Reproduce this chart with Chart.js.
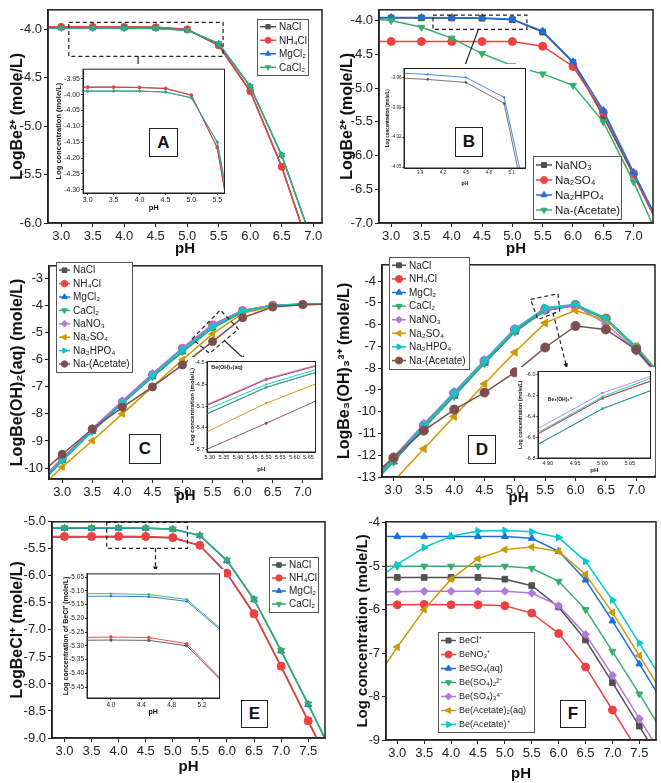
<!DOCTYPE html>
<html>
<head>
<meta charset="utf-8">
<script src="https://cdn.jsdelivr.net/npm/chart.js@4.4.1/dist/chart.umd.min.js"></script>
<style>
body{margin:0;background:#fff;width:661px;height:783px;position:relative;overflow:hidden;font-family:"Liberation Sans",Arial,sans-serif}
canvas{position:absolute}
.tag{position:absolute;border:1.5px solid #222;background:#fff;font-weight:bold;font-size:17px;display:flex;align-items:center;justify-content:center;box-sizing:border-box;color:#111}
</style>
</head>
<body>
<script>
// pH grids
const pHA = [2.5, 3, 3.5, 4, 4.5, 5, 5.5, 6, 6.5, 7];
const pHB = [2.5, 3, 3.5, 4, 4.5, 5, 5.5, 6, 6.5, 7, 7.5];
const pHE = [2.5, 3, 3.5, 4, 4.5, 5, 5.5, 6, 6.5, 7, 7.5, 8];

// A: LogBe2+ with chloride salts
const naclA  = [-3.977, -3.977, -3.977, -3.978, -3.981, -4.002, -4.168, -4.64, -5.42, -6.38];
const nh4clA = [-3.976, -3.976, -3.976, -3.977, -3.980, -4.001, -4.166, -4.64, -5.42, -6.38];
const mgcl2A = [-3.989, -3.989, -3.989, -3.989, -3.992, -4.010, -4.150, -4.59, -5.30, -6.22];
const cacl2A = [-3.989, -3.989, -3.989, -3.989, -3.992, -4.010, -4.149, -4.59, -5.30, -6.22];

// B: LogBe2+ with sodium salts
const nano3B   = [-3.96, -3.96, -3.96, -3.962, -3.965, -3.986, -4.17, -4.62, -5.42, -6.29, -7.2];
const na2so4B  = [-4.31, -4.31, -4.31, -4.31, -4.31, -4.31, -4.38, -4.68, -5.36, -6.27, -7.2];
const na2hpo4B = [-3.955, -3.955, -3.955, -3.957, -3.96, -3.98, -4.155, -4.61, -5.33, -6.25, -7.15];
const acetB    = [-3.96, -4.0, -4.1, -4.26, -4.49, -4.67, -4.79, -4.96, -5.5, -6.39, -7.4];

// C: LogBe(OH)2(aq)
const naclC    = [-10.8, -9.66, -8.58, -7.56, -6.56, -5.59, -4.73, -4.2, -4.0, -3.97, -3.96];
const nh4clC   = [-10.8, -9.66, -8.58, -7.56, -6.56, -5.59, -4.73, -4.2, -4.0, -3.97, -3.96];
const mgcl2C   = [-10.9, -9.72, -8.65, -7.62, -6.64, -5.72, -4.84, -4.25, -4.02, -3.97, -3.96];
const cacl2C   = [-10.9, -9.72, -8.65, -7.62, -6.64, -5.71, -4.84, -4.25, -4.02, -3.97, -3.96];
const nano3C   = [-10.75, -9.63, -8.54, -7.52, -6.52, -5.57, -4.72, -4.19, -4.0, -3.97, -3.96];
const na2so4C  = [-11.0, -9.96, -8.99, -8.0, -7.01, -6.01, -5.06, -4.3, -4.04, -3.98, -3.96];
const na2hpo4C = [-10.85, -9.7, -8.62, -7.6, -6.6, -5.63, -4.8, -4.21, -4.01, -3.97, -3.96];
const acetC    = [-10.5, -9.49, -8.56, -7.76, -7.01, -6.2, -5.34, -4.46, -4.07, -3.98, -3.96];

// D: LogBe3(OH)3 3+
const naclD    = [-13.6, -12.15, -10.62, -9.15, -7.67, -6.23, -5.3, -5.1, -5.72, -7.05, -8.7];
const nh4clD   = [-13.6, -12.15, -10.62, -9.15, -7.67, -6.23, -5.3, -5.1, -5.72, -7.05, -8.7];
const mgcl2D   = [-13.75, -12.3, -10.75, -9.28, -7.77, -6.33, -5.35, -5.12, -5.75, -7.1, -8.75];
const cacl2D   = [-13.75, -12.3, -10.75, -9.28, -7.77, -6.33, -5.35, -5.12, -5.75, -7.1, -8.75];
const nano3D   = [-13.5, -12.08, -10.56, -9.09, -7.62, -6.18, -5.28, -5.12, -5.96, -7.2, -8.8];
const na2so4D  = [-14.7, -13.2, -11.7, -10.22, -8.72, -7.27, -5.92, -5.34, -5.8, -7.0, -8.6];
const na2hpo4D = [-13.65, -12.2, -10.63, -9.15, -7.67, -6.215, -5.22, -5.06, -5.7, -7.03, -8.7];
const acetD    = [-13.3, -12.11, -10.87, -9.9, -9.12, -8.19, -7.05, -6.06, -6.22, -7.15, -8.75];

// E: LogBeCl+
const naclE  = [-5.28, -5.28, -5.28, -5.279, -5.28, -5.30, -5.44, -5.96, -6.71, -7.68, -8.69, -9.7];
const nh4clE = [-5.27, -5.27, -5.27, -5.268, -5.27, -5.292, -5.435, -5.95, -6.70, -7.67, -8.68, -9.7];
const mgcl2E = [-5.12, -5.12, -5.12, -5.119, -5.121, -5.138, -5.255, -5.72, -6.44, -7.39, -8.38, -9.4];
const cacl2E = [-5.11, -5.11, -5.11, -5.11, -5.113, -5.131, -5.25, -5.71, -6.43, -7.38, -8.37, -9.4];

// F: species
const beclF   = [-5.26, -5.26, -5.26, -5.26, -5.26, -5.30, -5.45, -5.94, -6.70, -7.68, -8.68, -9.7];
const beno3F  = [-5.89, -5.89, -5.88, -5.89, -5.89, -5.91, -6.08, -6.55, -7.32, -8.31, -9.3, -10.3];
const beso4F  = [-4.32, -4.32, -4.32, -4.32, -4.32, -4.32, -4.36, -4.66, -5.32, -6.26, -7.25, -8.25];
const beso42F = [-5.0, -5.0, -5.0, -5.0, -5.0, -5.0, -5.05, -5.35, -6.0, -6.96, -7.94, -8.95];
const beso43F = [-5.59, -5.59, -5.58, -5.58, -5.58, -5.58, -5.62, -5.91, -6.57, -7.51, -8.51, -9.5];
const beac2F  = [-7.8, -6.86, -6.0, -5.30, -4.83, -4.62, -4.56, -4.66, -5.19, -6.07, -7.06, -8.05];
const beacF   = [-5.41, -4.96, -4.57, -4.31, -4.19, -4.18, -4.21, -4.34, -4.89, -5.78, -6.77, -7.76];

// tick labels
const xTicks70 = [3, 3.5, 4, 4.5, 5, 5.5, 6, 6.5, 7];
const xTicks75 = [3, 3.5, 4, 4.5, 5, 5.5, 6, 6.5, 7, 7.5];
const yTicksA = [-6, -5.5, -5, -4.5, -4];
const yTicksB = [-7, -6.5, -6, -5.5, -5, -4.5, -4];
const yTicksC = [-10, -9, -8, -7, -6, -5, -4, -3];
const yTicksD = [-13, -12, -11, -10, -9, -8, -7, -6, -5, -4];
const yTicksE = [-9, -8.5, -8, -7.5, -7, -6.5, -6, -5.5, -5];
const yTicksF = [-9, -8, -7, -6, -5, -4];
const xTicksInA = [3, 3.5, 4, 4.5, 5, 5.5];
const yTicksInA = [-4.3, -4.25, -4.2, -4.15, -4.1, -4.05, -4, -3.95];
const xTicksInB = [3.9, 4.2, 4.5, 4.8, 5.1];
const yTicksInB = [-4.05, -4.02, -3.99, -3.96];
const xTicksInC = [5.3, 5.35, 5.4, 5.45, 5.5, 5.55, 5.6, 5.65];
const yTicksInC = [-5.7, -5.4, -5.1, -4.8, -4.5];
const xTicksInD = [4.9, 4.95, 5, 5.05];
const yTicksInD = [-6.8, -6.6, -6.4, -6.2, -6];
const xTicksInE = [4, 4.4, 4.8, 5.2];
const yTicksInE = [-5.45, -5.4, -5.35, -5.3, -5.25, -5.2, -5.15, -5.1, -5.05];

const GRAY = '#515151', RED = '#F14040', BLUE = '#1A6FDF', GREEN = '#37AD6B',
      PURPLE = '#B177DE', GOLD = '#CC9900', CYAN = '#00CBCC', BROWN = '#7D4E4E';
const SQ = {s: 'rect', r: 0}, CI = {s: 'circle', r: 0}, UP = {s: 'triangle', r: 0},
      DN = {s: 'triangle', r: 180}, DI = {s: 'rectRot', r: 0}, LT = {s: 'triangle', r: -90},
      RT = {s: 'triangle', r: 90};

Chart.defaults.font.family = '"Liberation Sans", Arial, sans-serif';
Chart.defaults.color = '#222';

const seriesA = [
  {label: 'NaCl', y: naclA, c: GRAY, m: SQ}, {label: 'NH₄Cl', y: nh4clA, c: RED, m: CI},
  {label: 'MgCl₂', y: mgcl2A, c: BLUE, m: UP}, {label: 'CaCl₂', y: cacl2A, c: GREEN, m: DN}];
const seriesB = [
  {label: 'NaNO₃', y: nano3B, c: GRAY, m: SQ}, {label: 'Na₂SO₄', y: na2so4B, c: RED, m: CI},
  {label: 'Na₂HPO₄', y: na2hpo4B, c: BLUE, m: UP}, {label: 'Na-(Acetate)', y: acetB, c: GREEN, m: DN}];
const seriesC = [
  {label: 'NaCl', y: naclC, c: GRAY, m: SQ}, {label: 'NH₄Cl', y: nh4clC, c: RED, m: CI},
  {label: 'MgCl₂', y: mgcl2C, c: BLUE, m: UP}, {label: 'CaCl₂', y: cacl2C, c: GREEN, m: DN},
  {label: 'NaNO₃', y: nano3C, c: PURPLE, m: DI}, {label: 'Na₂SO₄', y: na2so4C, c: GOLD, m: LT},
  {label: 'Na₂HPO₄', y: na2hpo4C, c: CYAN, m: RT}, {label: 'Na-(Acetate)', y: acetC, c: BROWN, m: CI}];
const seriesD = [
  {label: 'NaCl', y: naclD, c: GRAY, m: SQ}, {label: 'NH₄Cl', y: nh4clD, c: RED, m: CI},
  {label: 'MgCl₂', y: mgcl2D, c: BLUE, m: UP}, {label: 'CaCl₂', y: cacl2D, c: GREEN, m: DN},
  {label: 'NaNO₃', y: nano3D, c: PURPLE, m: DI}, {label: 'Na₂SO₄', y: na2so4D, c: GOLD, m: LT},
  {label: 'Na₂HPO₄', y: na2hpo4D, c: CYAN, m: RT}, {label: 'Na-(Acetate)', y: acetD, c: BROWN, m: CI}];
const seriesE = [
  {label: 'NaCl', y: naclE, c: GRAY, m: SQ}, {label: 'NH₄Cl', y: nh4clE, c: RED, m: CI},
  {label: 'MgCl₂', y: mgcl2E, c: BLUE, m: UP}, {label: 'CaCl₂', y: cacl2E, c: GREEN, m: DN}];
const seriesF = [
  {label: 'BeCl⁺', y: beclF, c: GRAY, m: SQ}, {label: 'BeNO₃⁺', y: beno3F, c: RED, m: CI},
  {label: 'BeSO₄(aq)', y: beso4F, c: BLUE, m: UP}, {label: 'Be(SO₄)₂²⁻', y: beso42F, c: GREEN, m: DN},
  {label: 'Be(SO₄)₃⁴⁻', y: beso43F, c: PURPLE, m: DI}, {label: 'Be(Acetate)₂(aq)', y: beac2F, c: GOLD, m: LT},
  {label: 'Be(Acetate)⁺', y: beacF, c: CYAN, m: RT}];

// plugins
function framePlugin(w) {
  return {id: 'frame', afterDraw(chart) {
    const a = chart.chartArea, ctx = chart.ctx;
    ctx.save(); ctx.strokeStyle = '#222'; ctx.lineWidth = w;
    ctx.strokeRect(a.left, a.top, a.right - a.left, a.bottom - a.top);
    ctx.restore();
  }};
}

function legendPlugin(lg, ox, oy) {
  return {id: 'boxLegend', afterDraw(chart) {
    if (!lg) return;
    const ctx = chart.ctx, ds = chart.data.datasets;
    const x0 = lg.x - ox, y0 = lg.y - oy;
    ctx.save();
    ctx.fillStyle = '#fff'; ctx.fillRect(x0, y0, lg.w, lg.h);
    ctx.strokeStyle = '#555'; ctx.lineWidth = 1; ctx.strokeRect(x0 + 0.5, y0 + 0.5, lg.w, lg.h);
    ctx.font = lg.size + 'px "Liberation Sans", Arial, sans-serif';
    ctx.textBaseline = 'middle';
    ds.forEach((d, i) => {
      const cy = y0 + lg.pad + lg.row * (i + 0.5);
      const x1 = x0 + 3, x2 = x1 + lg.len;
      ctx.strokeStyle = d.borderColor; ctx.lineWidth = 1.5;
      ctx.beginPath(); ctx.moveTo(x1, cy); ctx.lineTo(x2, cy); ctx.stroke();
      ctx.fillStyle = d.backgroundColor; ctx.lineWidth = 1;
      Chart.helpers.drawPoint(ctx, {pointStyle: d.pointStyle, rotation: d.pointRotation, radius: lg.r, borderWidth: 1}, (x1 + x2) / 2, cy);
      ctx.fillStyle = '#222';
      ctx.fillText(d.label, x2 + 3, cy + 0.5);
    });
    ctx.restore();
  }};
}

function markPlugin(mk) {
  return {id: 'zoomMark', afterDraw(chart) {
    if (!mk) return;
    const xs = chart.scales.x, ys = chart.scales.y, ctx = chart.ctx;
    const P = p => [xs.getPixelForValue(p[0]), ys.getPixelForValue(p[1])];
    ctx.save();
    ctx.strokeStyle = '#222'; ctx.lineWidth = 1.2; ctx.setLineDash([4, 3]);
    ctx.beginPath();
    mk.poly.map(P).forEach((q, i) => i ? ctx.lineTo(q[0], q[1]) : ctx.moveTo(q[0], q[1]));
    ctx.closePath(); ctx.stroke();
    const a = P(mk.arrow[0]), b = P(mk.arrow[1]);
    if (!mk.dashed) ctx.setLineDash([]);
    ctx.beginPath(); ctx.moveTo(a[0], a[1]); ctx.lineTo(b[0], b[1]); ctx.stroke();
    ctx.setLineDash([]);
    const ang = Math.atan2(b[1] - a[1], b[0] - a[0]), hl = 6;
    ctx.beginPath(); ctx.moveTo(b[0], b[1]);
    ctx.lineTo(b[0] - hl * Math.cos(ang - 0.4), b[1] - hl * Math.sin(ang - 0.4));
    ctx.lineTo(b[0] - hl * Math.cos(ang + 0.4), b[1] - hl * Math.sin(ang + 0.4));
    ctx.closePath(); ctx.fillStyle = '#222'; ctx.fill();
    ctx.restore();
  }};
}

function notePlugin(nt) {
  return {id: 'note', afterDraw(chart) {
    if (!nt) return;
    const ctx = chart.ctx;
    ctx.save();
    ctx.font = 'bold ' + nt.size + 'px "Liberation Sans", Arial, sans-serif';
    ctx.fillStyle = '#222'; ctx.textBaseline = 'middle';
    ctx.fillText(nt.text, chart.scales.x.getPixelForValue(nt.x), chart.scales.y.getPixelForValue(nt.y));
    ctx.restore();
  }};
}

function panel(o) {
  const [bx, by, bw, bh] = o.box, [L, T, R, B] = o.area;
  const c = document.createElement('canvas');
  c.width = bw; c.height = bh;
  Object.assign(c.style, {left: bx + 'px', top: by + 'px', width: bw + 'px', height: bh + 'px'});
  if (o.inset) c.style.background = '#fff';
  document.body.appendChild(c);
  const n = o.series.length;
  new Chart(c, {
    type: 'line',
    data: {datasets: o.series.map((s, i) => ({
      label: s.label,
      data: s.y.map((v, j) => ({x: o.x[j], y: v})),
      borderColor: s.c, backgroundColor: s.c,
      pointStyle: s.m.s, pointRotation: s.m.r,
      pointRadius: o.r, pointBorderWidth: o.inset ? 0.5 : 1,
      borderWidth: o.lw, order: n - i
    }))},
    options: {
      responsive: false, animation: false, events: [],
      layout: {padding: {left: 0, top: T - by, right: bx + bw - R, bottom: 0}},
      scales: {
        x: {
          type: 'linear', min: o.xr[0], max: o.xr[1],
          afterBuildTicks: s => { s.ticks = o.xt.map(v => ({value: v})); },
          afterFit: s => { s.height = by + bh - B; },
          ticks: {callback: v => v.toFixed(o.xd), font: {size: o.tf}, color: '#222', padding: o.tp, maxRotation: 0, autoSkip: false},
          grid: {drawOnChartArea: false, tickLength: o.tl, color: '#222'},
          border: {color: '#222', width: o.fw},
          title: {display: true, text: 'pH', color: '#111', font: {size: o.xts, weight: 'bold'},
                  padding: {top: 0, bottom: by + bh - o.xtc - o.xts * 0.6}}
        },
        y: {
          type: 'linear', min: o.yr[0], max: o.yr[1],
          afterBuildTicks: s => { s.ticks = o.yt.map(v => ({value: v})); },
          afterFit: s => { s.width = L - bx; },
          ticks: {callback: v => v.toFixed(o.yd), font: {size: o.tf}, color: '#222', padding: o.tp, autoSkip: false},
          grid: {drawOnChartArea: false, tickLength: o.tl, color: '#222'},
          border: {color: '#222', width: o.fw},
          title: {display: true, text: o.ytitle, color: '#111', font: {size: o.yts, weight: 'bold'},
                  padding: {top: o.ytc - bx - o.yts * 0.6, bottom: 0}}
        }
      },
      plugins: {legend: {display: false}, tooltip: {enabled: false}}
    },
    plugins: [framePlugin(o.fw), markPlugin(o.mark), legendPlugin(o.legend, bx, by), notePlugin(o.note)]
  });
}

const MAIN = {tf: 13, tp: 2, tl: 4, fw: 1.5, lw: 1.5, xts: 15, yts: 16};

// main panels
panel({...MAIN, box: [0, 0, 330, 262], area: [48, 3, 322, 223], x: pHA, series: seriesA, r: 3.5,
  xr: [2.79, 7.14], yr: [-6.0, -3.8], xt: xTicks70, yt: yTicksA, xd: 1, yd: 1,
  xtc: 249, ytc: 18, ytitle: 'LogBe²⁺ (mole/L)',
  legend: {x: 257, y: 19, w: 51, h: 56, pad: 1, row: 13.5, len: 16, r: 3, size: 10},
  mark: {poly: [[3.12, -3.93], [5.57, -3.93], [5.57, -4.28], [3.12, -4.28]], arrow: [[4.22, -4.28], [4.22, -4.43]]}});

panel({...MAIN, box: [330, 0, 331, 262], area: [379, 3, 653, 223], x: pHB, series: seriesB, r: 4,
  xr: [2.8, 7.32], yr: [-7.0, -3.84], xt: xTicks70, yt: yTicksB, xd: 1, yd: 1,
  xtc: 249, ytc: 348, ytitle: 'LogBe²⁺ (mole/L)',
  legend: {x: 533, y: 156, w: 88, h: 63, pad: 1.5, row: 15, len: 16, r: 3.5, size: 11.5},
  mark: {poly: [[3.69, -3.92], [5.24, -3.92], [5.24, -4.13], [3.69, -4.13]], arrow: [[4.44, -4.13], [4.18, -4.755]]}});

panel({...MAIN, box: [0, 256, 330, 264], area: [49, 260, 322, 479], x: pHB, series: seriesC, r: 4,
  xr: [2.78, 7.32], yr: [-10.4, -2.55], xt: xTicks70, yt: yTicksC, xd: 1, yd: 0,
  xtc: 496, ytc: 18, ytitle: 'LogBe(OH)₂(aq) (mole/L)',
  legend: {x: 56, y: 262, w: 76, h: 110, pad: 1.5, row: 13.4, len: 11, r: 3.2, size: 10},
  mark: {poly: [[5.16, -5.24], [5.63, -4.18], [5.93, -4.88], [5.45, -5.77]], arrow: [[5.70, -5.31], [6.06, -6.05]]}});

panel({...MAIN, box: [330, 255, 331, 265], area: [382, 258, 655, 477], x: pHB, series: seriesD, r: 4.5,
  xr: [2.81, 7.31], yr: [-13, -3.25], xt: xTicks70, yt: yTicksD, xd: 1, yd: 0,
  xtc: 498, ytc: 345, ytitle: 'LogBe₃(OH)₃³⁺ (mole/L)',
  legend: {x: 389, y: 257, w: 80, h: 112, pad: 1.5, row: 13.6, len: 14, r: 3.5, size: 10},
  mark: {poly: [[5.26, -4.84], [5.71, -4.58], [5.74, -5.37], [5.38, -5.77]], arrow: [[5.63, -5.46], [5.86, -8.03]], dashed: true}});

panel({...MAIN, box: [0, 512, 330, 271], area: [52, 519, 325, 738], x: pHE, series: seriesE, r: 4,
  xr: [2.77, 7.81], yr: [-9.0, -5.0], xt: xTicks75, yt: yTicksE, xd: 1, yd: 1,
  xtc: 767, ytc: 18, ytitle: 'LogBeCl⁺ (mole/L)',
  legend: {x: 269, y: 557, w: 49, h: 55, pad: 1.5, row: 13, len: 14, r: 3.2, size: 10},
  mark: {poly: [[3.78, -5.01], [5.27, -5.01], [5.27, -5.49], [3.78, -5.49]], arrow: [[4.68, -5.49], [4.68, -5.93]], dashed: true}});

panel({...MAIN, yts: 15, box: [330, 512, 331, 271], area: [386, 518, 658, 740], x: pHE, series: seriesF, r: 4,
  xr: [2.79, 7.81], yr: [-9.0, -3.98], xt: xTicks75, yt: yTicksF, xd: 1, yd: 0,
  xtc: 774, ytc: 363, ytitle: 'Log concentration (mole/L)',
  legend: {x: 438, y: 632, w: 96, h: 100, pad: 1.5, row: 14, len: 15, r: 3.5, size: 9}});

// insets
panel({inset: true, tf: 7, tp: 1, tl: 2, fw: 1, lw: 0.9, xts: 7.5, yts: 7.5, r: 1.5,
  box: [52, 64, 177, 151], area: [83, 68, 227, 193], x: pHA, series: seriesA,
  xr: [2.91, 5.64], yr: [-4.31, -3.92], xt: xTicksInA, yt: yTicksInA, xd: 1, yd: 2,
  xtc: 208, ytc: 59, ytitle: 'Log concentration (mole/L)'});

panel({inset: true, tf: 4.5, tp: 1, tl: 1.5, fw: 1, lw: 0.8, xts: 5, yts: 4.5, r: 1.2,
  box: [384, 64, 146, 126], area: [404, 67, 528, 168], x: pHB, series: seriesB,
  xr: [3.69, 5.28], yr: [-4.051, -3.951], xt: xTicksInB, yt: yTicksInB, xd: 1, yd: 2,
  xtc: 184, ytc: 388, ytitle: 'Log concentration (mole/L)'});

panel({inset: true, tf: 5.5, tp: 1, tl: 1.5, fw: 1, lw: 0.9, xts: 6, yts: 6, r: 1.2,
  box: [188, 357, 132, 118], area: [207, 360, 317, 452], x: pHB, series: seriesC,
  xr: [5.29, 5.675], yr: [-5.74, -4.48], xt: xTicksInC, yt: yTicksInC, xd: 2, yd: 1,
  xtc: 469, ytc: 192, ytitle: 'Log concentration (mole/L)',
  note: {text: 'Be(OH)₂(aq)', x: 5.305, y: -4.57, size: 5.5}});

panel({inset: true, tf: 5.5, tp: 1, tl: 1.5, fw: 1, lw: 0.9, xts: 6, yts: 5.3, r: 1.2,
  box: [517, 367, 138, 108], area: [538, 370, 655, 458], x: pHB, series: seriesD,
  xr: [4.882, 5.088], yr: [-6.8, -5.975], xt: xTicksInD, yt: yTicksInD, xd: 2, yd: 1,
  xtc: 470, ytc: 521, ytitle: 'Log concentration (mole/L)',
  note: {text: 'Be₃(OH)₃³⁺', x: 4.9, y: -6.24, size: 5}});

panel({inset: true, tf: 6.5, tp: 1, tl: 2, fw: 1, lw: 0.9, xts: 7, yts: 7, r: 1.5,
  box: [61, 569, 163, 150], area: [87, 572, 222, 698], x: pHE, series: seriesE,
  xr: [3.685, 5.43], yr: [-5.49, -5.038], xt: xTicksInE, yt: yTicksInE, xd: 1, yd: 2,
  xtc: 712, ytc: 66, ytitle: 'Log concentration of BeCl⁺ (mole/L)'});

// panel letters
[['A', 149, 128, 29, 29], ['B', 455, 127, 28, 30], ['C', 129, 434, 32, 30],
 ['D', 468, 435, 28, 29], ['E', 241, 700, 27, 28], ['F', 560, 700, 26, 28]].forEach(t => {
  const d = document.createElement('div');
  d.className = 'tag'; d.textContent = t[0];
  Object.assign(d.style, {left: t[1] + 'px', top: t[2] + 'px', width: t[3] + 'px', height: t[4] + 'px'});
  document.body.appendChild(d);
});
</script>
</body>
</html>
